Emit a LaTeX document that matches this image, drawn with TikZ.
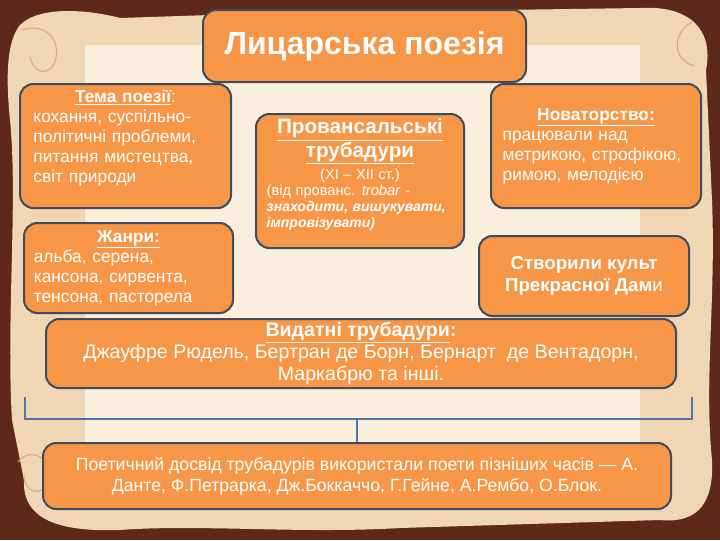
\documentclass[tikz,border=0pt]{standalone}
\usepackage{fontspec}
\setmainfont{Liberation Sans}
\usetikzlibrary{positioning}
\definecolor{boxfill}{RGB}{247,150,70}
\definecolor{boxline}{RGB}{62,76,94}
\definecolor{bracketblue}{RGB}{79,116,170}
\definecolor{frame}{RGB}{94,40,26}
\definecolor{parch}{RGB}{240,214,180}
\definecolor{parchlight}{RGB}{250,239,220}
\definecolor{curl}{RGB}{214,168,128}

\tikzset{
  infobox/.style={draw=boxline, line width=1.5pt, fill=boxfill, rounded corners=10pt,
    text=white, inner sep=0pt, anchor=north west},
  bracket/.style={draw=bracketblue, line width=2.2pt},
}

\begin{document}
\begin{tikzpicture}[x=0.75pt,y=0.75pt,yscale=-1]
\useasboundingbox (0,0) rectangle (720,540);

%Background frame
\fill[frame] (0,0) rectangle (720,540);
%Parchment
\fill[parch] (20,25) .. controls (40,5) and (90,10) .. (120,18) -- (240,14) .. controls (300,6) and (400,16) .. (500,10) -- (640,8) .. controls (690,5) and (714,30) .. (706,70) -- (712,200) .. controls (716,300) and (704,380) .. (712,460) .. controls (714,500) and (700,524) .. (660,520) -- (400,528) .. controls (300,534) and (200,524) .. (120,530) .. controls (60,532) and (22,520) .. (24,480) -- (12,420) .. controls (6,320) and (18,200) .. (10,120) .. controls (5,70) and (8,40) .. (20,25) -- cycle;
\fill[parchlight] (85,45) rectangle (640,505);
%Scroll curls
\draw[curl, line width=0.8pt] (22,30) .. controls (45,22) and (62,40) .. (55,62) .. controls (48,78) and (32,72) .. (30,56);
\draw[curl, line width=0.8pt] (18,462) .. controls (30,446) and (55,458) .. (48,482) .. controls (42,498) and (24,492) .. (24,476);
\draw[curl, line width=0.8pt] (692,22) .. controls (674,32) and (670,58) .. (694,66);

%Title
\node (title) [infobox, minimum width=242.25pt, minimum height=54pt,
  font=\fontsize{24}{28}\selectfont\bfseries] at (202,9) {Лицарська поезія};

%Left column
\node (tema) [infobox, minimum width=158.25pt, minimum height=93pt, text width=138pt,
  align=left, font=\fontsize{13}{15}\selectfont] at (19,83)
  {\hfill\textbf{\underline{Тема поезії}}:\hfill\mbox{}\\
   кохання, суспільно-\\
   політичні проблеми,\\
   питання мистецтва,\\
   світ природи\\\mbox{}};
\node (zhanry) [infobox, minimum width=156.75pt, minimum height=67.5pt, text width=142pt,
  align=left, font=\fontsize{13}{15}\selectfont] at (23,222)
  {\hfill\textbf{\underline{Жанри:}}\hfill\mbox{}\\
   альба, серена,\\
   кансона, сирвента,\\
   тенсона, пасторела};

%Centre
\node (prov) [infobox, minimum width=156pt, minimum height=100.5pt, text width=140pt,
  align=left] at (255,113)
  {{\fontsize{15.5}{16.5}\selectfont\bfseries
    \hfill\underline{Провансальські}\hfill\mbox{}\\
    \hfill\underline{трубадури}\hfill\mbox{}\\[2.5pt]}
   {\fontsize{11}{12}\selectfont
    \hfill(XI – XII ст.)\hfill\mbox{}\\
    (від прованс. \textit{trobar} -\\
    {\fontsize{10.5}{12}\selectfont\textbf{\textit{знаходити, вишукувати,}}}\\
    {\fontsize{10.5}{12}\selectfont\textbf{\textit{імпровізувати)}}}\\\mbox{}}};

%Right column
\node (novat) [infobox, minimum width=157.5pt, minimum height=93pt, text width=140pt,
  align=left, font=\fontsize{13}{15}\selectfont] at (490,83)
  {\hfill\textbf{\underline{Новаторство:}}\hfill\mbox{}\\
   працювали над\\
   метрикою, строфікою,\\
   римою, мелодією};
\node (kult) [infobox, minimum width=157.5pt, minimum height=60pt, align=center,
  font=\fontsize{14}{16}\selectfont\bfseries] at (478,235)
  {Створили культ\\ Прекрасної Дам\textmd{и}};

%Wide boxes
\node (vydatni) [infobox, minimum width=472.5pt, minimum height=51.75pt, align=center,
  font=\fontsize{14.7}{16.5}\selectfont] at (45,318)
  {\textbf{\underline{Видатні трубадури}:}\\
   Джауфре Рюдель, Бертран де Борн, Бернарт~ де Вентадорн,\\
   Маркабрю та інші.};
\node (later) [infobox, minimum width=471pt, minimum height=49.5pt, align=center,
  font=\fontsize{13.25}{16}\selectfont] at (42,442)
  {Поетичний досвід трубадурів використали поети пізніших часів — А.\\
   Данте, Ф.Петрарка, Дж.Боккаччо, Г.Гейне, А.Рембо, О.Блок.};

%Bracket
\coordinate (brL) at (25,397);
\coordinate (brR) at (692,397);
\coordinate (brMid) at (later.north |- 0,419);
\draw[bracket] (brL) |- (brMid) -| (brR);
\draw[bracket] (brMid) -- (later.north);

\end{tikzpicture}
\end{document}
